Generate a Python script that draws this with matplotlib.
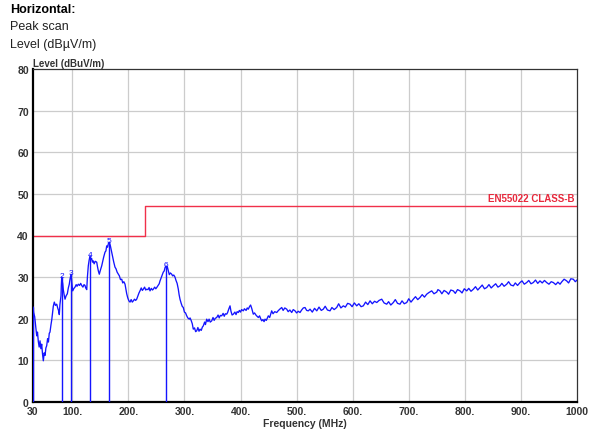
import matplotlib
matplotlib.use("Agg")
import matplotlib.pyplot as plt

plt.rcParams['font.family'] = ['Liberation Sans', 'DejaVu Sans']

# Measured peak-scan trace (MHz, dBuV/m)
freq = [30, 31, 33, 35, 36.6, 38, 39.5, 41, 42.5, 44, 45.5, 47, 48.4, 50, 51.5, 53, 54.4, 56, 57.5, 59,
        60.3, 62, 63.5, 65, 66.2, 68, 70, 72.3, 74, 75.5, 76.9, 78, 79.9, 80.5, 81.2, 82, 83, 84, 85.5, 87.1,
        89, 91.2, 93, 94.7, 96, 97.8, 99, 100.8, 103, 104.9, 107, 108.5, 110.8, 113, 115, 116.8, 119, 121, 122.7, 124,
        125.8, 127, 128.6, 130, 131.6, 133, 134.5, 136, 137.5, 139, 141, 143.6, 145, 146.5, 148.2, 150, 152.5, 154, 156, 158.4,
        160, 161.4, 163, 164.3, 166.1, 168, 170.3, 172, 174, 176.2, 178, 180, 182.1, 184, 186, 188.2, 190, 192, 194.1, 195.5,
        197.1, 199, 201, 203, 205, 207, 208.9, 211, 213, 214.9, 217, 219, 220.8, 223, 225, 226.7, 229, 231, 232.7, 235,
        237, 238.6, 241, 243, 244.5, 247, 249, 250.6, 253, 255, 256.5, 258.5, 260.5, 262.3, 264, 265.5, 267.2, 268.5, 269.5, 271.3,
        273, 275, 277.3, 279, 281, 283.2, 285, 287, 289.1, 290.5, 292.1, 294, 296, 298, 300, 302, 304.1, 306, 308.7, 310,
        312, 314, 315.8, 318, 320, 321.9, 324, 326, 327.8, 330, 332, 333.7, 336, 337.5, 339.7, 342, 344, 346, 348.7, 351,
        353, 355, 357.6, 360, 362, 364, 366.5, 369, 371, 373, 375.4, 377, 379, 381.3, 383, 385, 387.2, 390, 392, 394,
        396.1, 398, 400, 402, 405, 407, 410, 412, 413.9, 416, 418, 420, 422.8, 425, 428, 431.8, 434, 436, 437.8, 440,
        442, 443.7, 446, 449.6, 452, 455.6, 458, 461, 464.6, 467, 470, 473.5, 476, 479, 482.4, 485, 488, 491.3, 494, 497.2,
        500, 503, 506.1, 509, 512, 515, 518, 520.9, 524, 528, 532, 536, 540, 544, 547.6, 551, 555, 559.6, 563, 567,
        571.5, 575, 579, 583.3, 587, 591, 595.3, 599, 603, 607.2, 611, 615, 619, 623, 627, 631, 635, 639, 643, 647,
        651.8, 656, 660.7, 664, 668, 672.5, 676, 680, 684.4, 688, 692, 696.4, 700, 704, 708.1, 712, 716, 720, 724, 728,
        732, 736, 740.9, 745, 749.9, 752, 755.7, 759, 763, 767.7, 771, 775, 779.5, 783, 787, 791.4, 795, 799, 803.4, 807,
        811, 815.2, 819, 823, 827.1, 831, 835, 839, 843, 847, 850.8, 855, 859, 862.7, 866, 870, 874.7, 878, 882, 886.5,
        890, 894, 898.4, 902, 906, 910.3, 914, 918, 922.1, 926, 930, 934, 938, 942, 945.9, 950, 954, 957.8, 962, 966,
        969.7, 973, 977, 981.6, 985, 989, 993.4, 997, 1000]

level = [22.8, 21.5, 20.5, 18.0, 15.9, 16.8, 14.5, 13.2, 14.7, 12.8, 13.9, 11.5, 9.9, 11.8, 11.2, 13.0, 13.5, 15.2, 14.4, 16.5,
         16.8, 18.5, 19.8, 21.5, 23.0, 24.0, 23.2, 23.5, 22.6, 22.0, 21.0, 23.4, 25.5, 28.0, 30.0, 29.2, 28.4, 27.0, 25.8, 24.7,
         25.5, 26.0, 27.4, 28.3, 29.5, 30.7, 28.8, 26.7, 27.3, 27.6, 28.2, 27.8, 28.3, 28.0, 28.5, 28.0, 27.6, 28.2, 28.0, 27.4,
         27.0, 30.0, 32.7, 34.0, 35.1, 34.2, 34.5, 33.6, 33.9, 33.2, 33.8, 33.6, 32.5, 31.5, 30.7, 31.6, 32.7, 33.6, 34.8, 36.0,
         36.3, 37.5, 37.2, 38.0, 38.4, 37.5, 36.0, 35.0, 33.6, 32.4, 32.0, 31.2, 30.7, 30.3, 29.4, 29.5, 28.6, 28.9, 28.3, 27.2,
         26.0, 25.0, 24.3, 24.0, 24.6, 24.0, 24.3, 24.7, 24.4, 24.7, 25.5, 26.2, 26.7, 27.4, 26.8, 27.1, 27.6, 26.9, 27.1, 27.0,
         27.5, 26.7, 27.3, 26.9, 27.1, 27.6, 27.2, 27.5, 28.0, 28.4, 29.1, 29.8, 30.5, 31.2, 31.5, 32.3, 32.7, 32.0, 32.5, 31.5,
         30.6, 31.0, 30.7, 30.3, 30.5, 30.0, 29.2, 28.5, 27.1, 25.8, 24.7, 23.8, 23.0, 22.7, 21.6, 21.4, 20.7, 20.2, 19.9, 20.2,
         19.6, 18.8, 17.5, 17.8, 16.9, 17.1, 17.9, 17.0, 17.5, 17.2, 18.0, 18.3, 19.2, 18.6, 19.9, 19.3, 19.9, 19.2, 19.5, 20.3,
         19.6, 20.1, 20.3, 20.9, 20.2, 20.8, 20.7, 21.3, 20.6, 21.2, 21.1, 21.5, 22.3, 23.1, 21.8, 20.9, 21.1, 21.6, 21.0, 21.7,
         21.5, 22.0, 21.6, 22.2, 21.9, 22.4, 22.0, 22.6, 22.3, 22.9, 23.3, 22.5, 21.1, 21.4, 20.8, 20.3, 20.7, 20.0, 19.5, 19.8,
         19.3, 19.9, 19.6, 20.7, 20.3, 21.9, 21.2, 21.7, 21.5, 21.9, 22.3, 22.7, 22.0, 22.6, 22.3, 21.7, 22.1, 21.5, 22.2, 21.9,
         21.4, 21.8, 21.5, 22.1, 22.6, 22.7, 22.0, 21.9, 22.3, 21.6, 22.5, 21.9, 22.8, 22.0, 22.3, 23.0, 22.1, 21.9, 22.7, 22.2,
         22.7, 23.6, 22.6, 23.1, 22.8, 23.7, 23.5, 22.9, 23.8, 23.1, 23.6, 22.9, 23.1, 24.0, 23.4, 24.3, 23.6, 24.2, 23.9, 24.4,
         24.7, 23.8, 23.5, 24.1, 23.3, 23.9, 24.6, 23.7, 23.5, 24.3, 23.6, 23.9, 24.8, 24.0, 24.7, 25.3, 24.6, 25.1, 25.8, 25.2,
         25.9, 26.3, 26.7, 26.0, 26.4, 27.0, 26.7, 26.0, 26.8, 26.4, 25.9, 26.9, 26.7, 26.1, 27.0, 26.7, 26.2, 27.2, 26.7, 27.3,
         26.6, 27.1, 27.7, 26.9, 27.5, 28.1, 27.2, 27.5, 28.2, 27.4, 27.9, 28.4, 27.6, 27.9, 28.5, 27.8, 28.3, 28.9, 28.1, 27.9,
         28.6, 28.0, 28.7, 29.1, 28.3, 28.7, 29.2, 28.4, 28.7, 29.3, 28.5, 29.1, 28.6, 29.2, 28.7, 28.3, 28.9, 28.7, 28.2, 28.8,
         28.3, 28.9, 29.5, 29.1, 28.6, 29.6, 29.5, 28.9, 29.3]

# EN55022 class B limit (step at 230 MHz)
limit_freq = [30, 230, 230, 1000]
limit_level = [40, 40, 47, 47]

# Peak markers
marker_freq = [30, 81.2, 97.8, 131.6, 166.1, 267.2]
marker_level = [22.8, 30.0, 30.7, 35.1, 38.4, 32.7]
marker_ids = ["1", "2", "3", "4", "5", "6"]

x_ticks = [30, 100, 200, 300, 400, 500, 600, 700, 800, 900, 1000]
x_tick_labels = ["30", "100.", "200.", "300.", "400.", "500.", "600.", "700.", "800.", "900.", "1000"]
y_ticks = [0, 10, 20, 30, 40, 50, 60, 70, 80]

fig = plt.figure(figsize=(5.89, 4.35), dpi=100)
ax = fig.add_axes([33 / 589, 1 - 403 / 435, 544 / 589, 333 / 435])

ax.set_xlim(30, 1000)
ax.set_ylim(0, 80)

for g in range(100, 1000, 100):
    ax.axvline(g, color='#cccccc', lw=0.9, zorder=0)
for g in range(10, 80, 10):
    ax.axhline(g, color='#cccccc', lw=0.9, zorder=0)

ax.plot(limit_freq, limit_level, color='#f0304a', lw=1.0, zorder=2)
ax.text(995, 47.9, "EN55022 CLASS-B", color='#e8283c', fontsize=7, fontweight='bold',
        ha='right', va='bottom')

ax.plot(freq, level, color='#1414ff', lw=0.95, zorder=3)
ax.vlines(marker_freq, 0, marker_level, color='#1414ff', lw=1.0, zorder=3)
for f, l, t in zip(marker_freq[1:], marker_level[1:], marker_ids[1:]):
    ax.text(f, l - 0.4, t, color='#1414ff', fontsize=6, ha='center', va='bottom', zorder=4)

ax.set_xticks(x_ticks)
ax.set_xticklabels(x_tick_labels)
ax.set_yticks(y_ticks)
ax.tick_params(length=0, labelsize=7.5, pad=3)
for lab in ax.get_xticklabels() + ax.get_yticklabels():
    lab.set_fontweight('bold')
    lab.set_color('#333333')

for side in ['left', 'bottom']:
    ax.spines[side].set_linewidth(1.6)
    ax.spines[side].set_color('black')
for side in ['top', 'right']:
    ax.spines[side].set_linewidth(0.9)
    ax.spines[side].set_color('#333333')

ax.set_xlabel("Frequency (MHz)", fontsize=7.5, fontweight='bold', color='#333333', labelpad=1)
ax.text(0.0, 1.003, "Level (dBuV/m)", transform=ax.transAxes, fontsize=7, fontweight='bold',
        color='#333333', ha='left', va='bottom')

fig.text(10 / 589, 1 - 10 / 435, "Horizontal:", fontsize=9, fontweight='bold', ha='left', va='center')
fig.text(10 / 589, 1 - 27 / 435, "Peak scan", fontsize=9, ha='left', va='center', color='#222222')
fig.text(10 / 589, 1 - 45 / 435, "Level (dBµV/m)", fontsize=9, ha='left', va='center', color='#222222')

fig.savefig("out.png", dpi=100)
